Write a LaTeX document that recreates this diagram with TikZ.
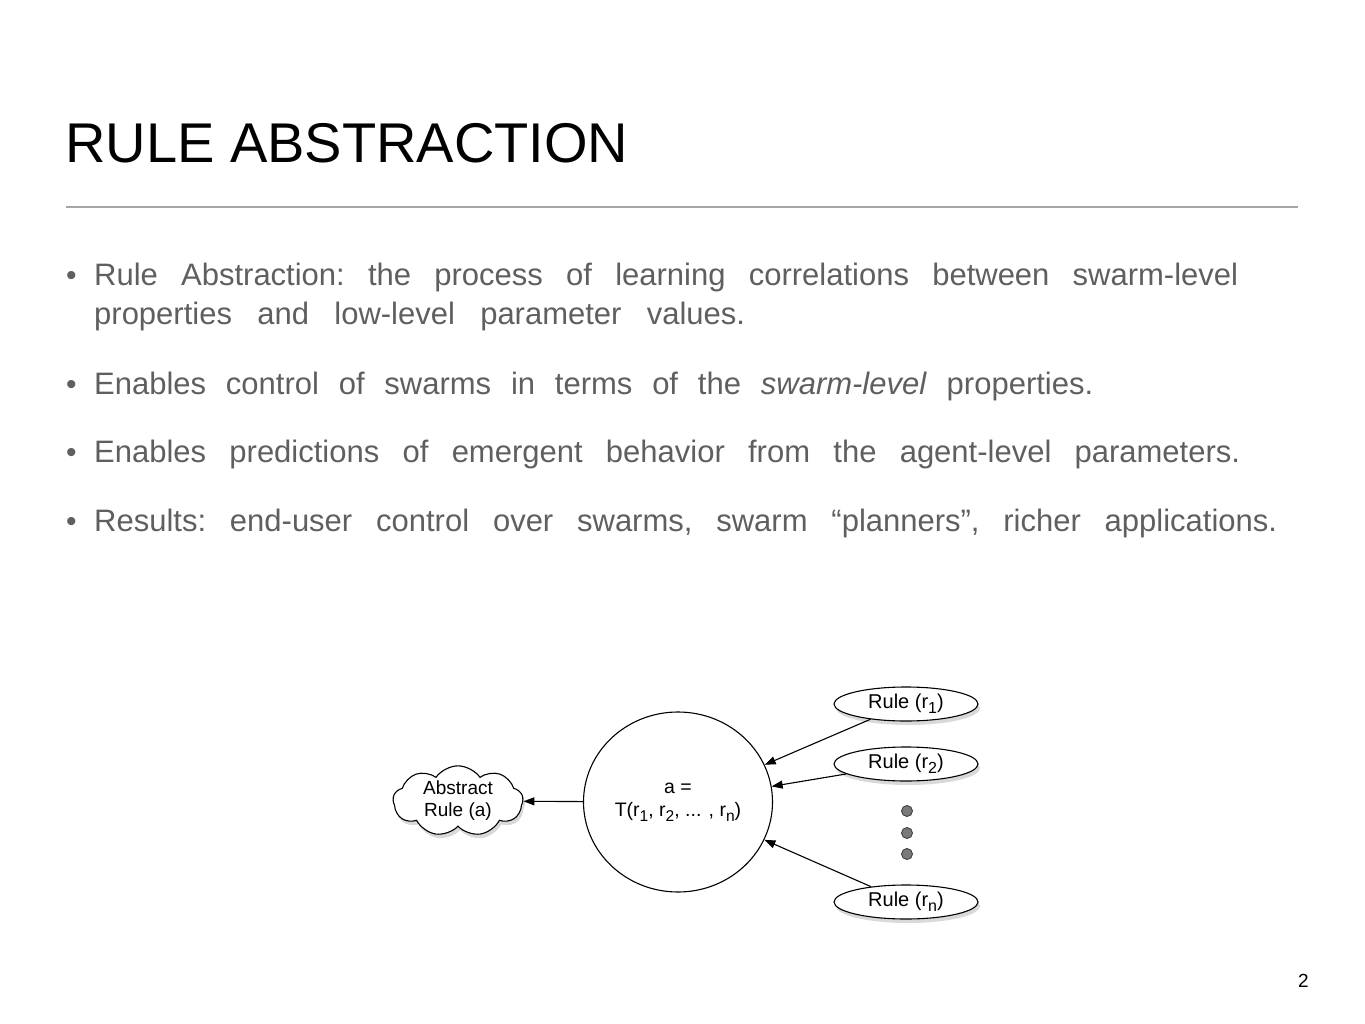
\documentclass[tikz,border=0pt]{standalone}
\usepackage{fontspec}
\setmainfont{Liberation Sans}
\usetikzlibrary{shapes.geometric,shapes.symbols,arrows.meta,shadows}
\definecolor{bodygray}{HTML}{5F5F5F}
\definecolor{sepgray}{HTML}{A6A6A6}
\definecolor{dotgray}{HTML}{7A7A7A}
\newcommand\lowidx[1]{\raisebox{-0.5ex}{\scalebox{0.8}{#1}}}
\newcommand\fitline[2]{\frenchspacing\makebox[#1][s]{#2}}
\tikzset{
  bodytext/.style={anchor=base west, inner sep=0pt, text=bodygray, font=\fontsize{31}{36}\selectfont},
  bulletmark/.style={anchor=base west, inner sep=0pt, text=bodygray, font=\fontsize{30}{36}\selectfont},
  shapeline/.style={draw=black, line width=1.1pt, fill=white},
  softshadow/.style={drop shadow={opacity=0.3, shadow xshift=2pt, shadow yshift=-4pt}},
  rulebox/.style={ellipse, shapeline, softshadow, minimum width=144pt, minimum height=34pt, inner sep=0pt, font=\fontsize{20}{22}\selectfont},
  link/.style={line width=1.1pt, -{Triangle[length=11pt,width=8pt]}},
  dotmark/.style={circle, draw=black!75, fill=dotgray, line width=0.9pt, minimum size=11pt, inner sep=0pt}
}
\begin{document}
\begin{tikzpicture}[x=1pt,y=-1pt]
\useasboundingbox (0,0) rectangle (1365,1024);
% title
\node[anchor=base west, inner sep=0pt, font=\fontsize{56}{60}\selectfont] (title) at (65,163) {RULE ABSTRACTION};
\draw[sepgray, line width=1.3pt] (66,207) -- (1298,207);
% bullets
\node[bulletmark] (m1) at (66,286) {•};
\node[bodytext] (b1a) at (94,286) {\fitline{1144pt}{Rule Abstraction: the process of learning correlations between swarm-level}};
\node[bodytext] (b1b) at (94,324) {\fitline{651pt}{properties and low-level parameter values.}};
\node[bulletmark] (m2) at (66,394) {•};
\node[bodytext] (b2) at (94,394) {\fitline{999pt}{Enables control of swarms in terms of the \textit{swarm-level} properties.}};
\node[bulletmark] (m3) at (66,462) {•};
\node[bodytext] (b3) at (94,462) {\fitline{1146pt}{Enables predictions of emergent behavior from the agent-level parameters.}};
\node[bulletmark] (m4) at (66,531) {•};
\node[bodytext] (b4) at (94,531) {\fitline{1183pt}{Results: end-user control over swarms, swarm “planners”, richer applications.}};
% diagram
\node[ellipse, shapeline, minimum width=189pt, minimum height=180pt, inner sep=0pt, align=center, font=\fontsize{19.5}{23}\selectfont] (T) at (678,802) {a =\\T(r\lowidx{1}, r\lowidx{2}, ... , r\lowidx{n})};
\node[cloud, cloud puffs=9, cloud puff arc=110, cloud ignores aspect, shapeline, softshadow, minimum width=130pt, minimum height=60pt, inner sep=0pt, align=center, font=\fontsize{19}{22}\selectfont] (A) at (458,801) {Abstract\\Rule (a)};
\node[rulebox] (r1) at (906,704) {Rule (r\lowidx{1})};
\node[rulebox] (r2) at (906,764) {Rule (r\lowidx{2})};
\node[rulebox] (rn) at (906,902) {Rule (r\lowidx{n})};
\node[dotmark] (d1) at (907,811) {};
\node[dotmark] (d2) at (907,833) {};
\node[dotmark] (d3) at (907,854) {};
\draw[link] (T) -- (A);
\draw[link] (r1) -- (T);
\draw[link] (r2) -- (T);
\draw[link] (rn) -- (T);
% page number
\node[anchor=base west, inner sep=0pt, font=\fontsize{19}{22}\selectfont] (pg) at (1298,987) {2};
\end{tikzpicture}
\end{document}
